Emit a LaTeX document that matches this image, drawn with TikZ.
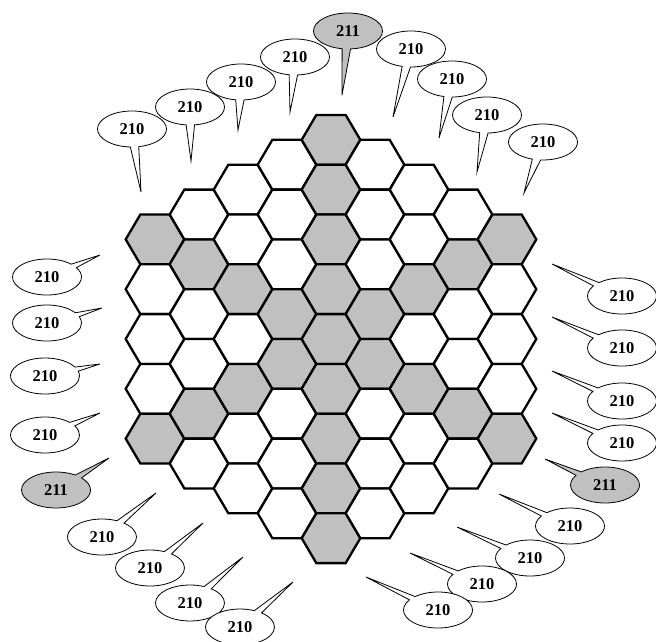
\documentclass[tikz,border=0pt]{standalone}
\usepackage{fontspec}
\setmainfont{Liberation Serif}
\usetikzlibrary{shapes.callouts}
\definecolor{hexgray}{RGB}{192,192,192}

\begin{document}
\begin{tikzpicture}[x=1pt,y=-1pt,
    cell/.style={draw=black,line width=2.3pt,line join=miter,fill=white},
    axis cell/.style={cell,fill=hexgray},
    bubble/.style={ellipse callout,draw=black,line width=0.8pt,fill=white,
      minimum width=69pt,minimum height=36pt,inner sep=0pt,
      callout pointer arc=14,font=\bfseries\fontsize{16.5}{18}\selectfont},
    bubble 210/.style={bubble},
    bubble 211/.style={bubble,fill=hexgray}]
    \useasboundingbox (0,0) rectangle (656,641);
    % board: 61 cells, the three axes through the centre are gray
    \foreach \q in {-4,...,4}{
      \pgfmathtruncatemacro\rlo{max(-4,-4-\q)}
      \pgfmathtruncatemacro\rhi{min(4,4-\q)}
      \foreach \r in {\rlo,...,\rhi}{
        \pgfmathsetmacro\cx{331+44*\q}
        \pgfmathsetmacro\cy{339+49.8*(\r+\q/2)}
        \pgfmathtruncatemacro\s{\q+\r}
        \ifnum\q=0 \def\kind{axis cell}\else
          \ifnum\r=0 \def\kind{axis cell}\else
            \ifnum\s=0 \def\kind{axis cell}\else \def\kind{cell}\fi\fi\fi
        \draw[\kind,shift={(\cx,\cy)}] (29.3,0) -- (14.65,24.9) -- (-14.65,24.9)
          -- (-29.3,0) -- (-14.65,-24.9) -- (14.65,-24.9) -- cycle;
      }
    }
    % speech balloons: centre / pointer tip / text
    \foreach \cx/\cy/\tx/\ty/\t [count=\n] in {
        132/129/141/192/210, 190/107/191/161/210, 241/82/238/130/210,
        295/57/290/112/210, 348/31/342/95/211, 411/49/393/117/210,
        452/79/439/138/210, 487/115/477/172/210, 543/142/524/193/210,
        47/277/100/255/210, 47/323/102/308/210, 45/376/100/364/210,
        45/435/100/413/210, 56/490/109/458/211,
        102/537/156/493/210, 150/568/203/523/210, 190/603/243/557/210,
        240/627/293/582/210,
        622/296/552/264/210, 622/348/552/317/210, 622/401/552/371/210,
        622/443/552/413/210, 605/485/545/459/211,
        570/526/499/494/210, 530/558/457/527/210, 482/584/410/553/210,
        438/610/366/577/210}{
      \coordinate (tip\n) at (\tx,\ty);
      \node[bubble \t,callout absolute pointer={(tip\n)}] (b\n) at (\cx,\cy) {\t};
    }
\end{tikzpicture}
\end{document}
